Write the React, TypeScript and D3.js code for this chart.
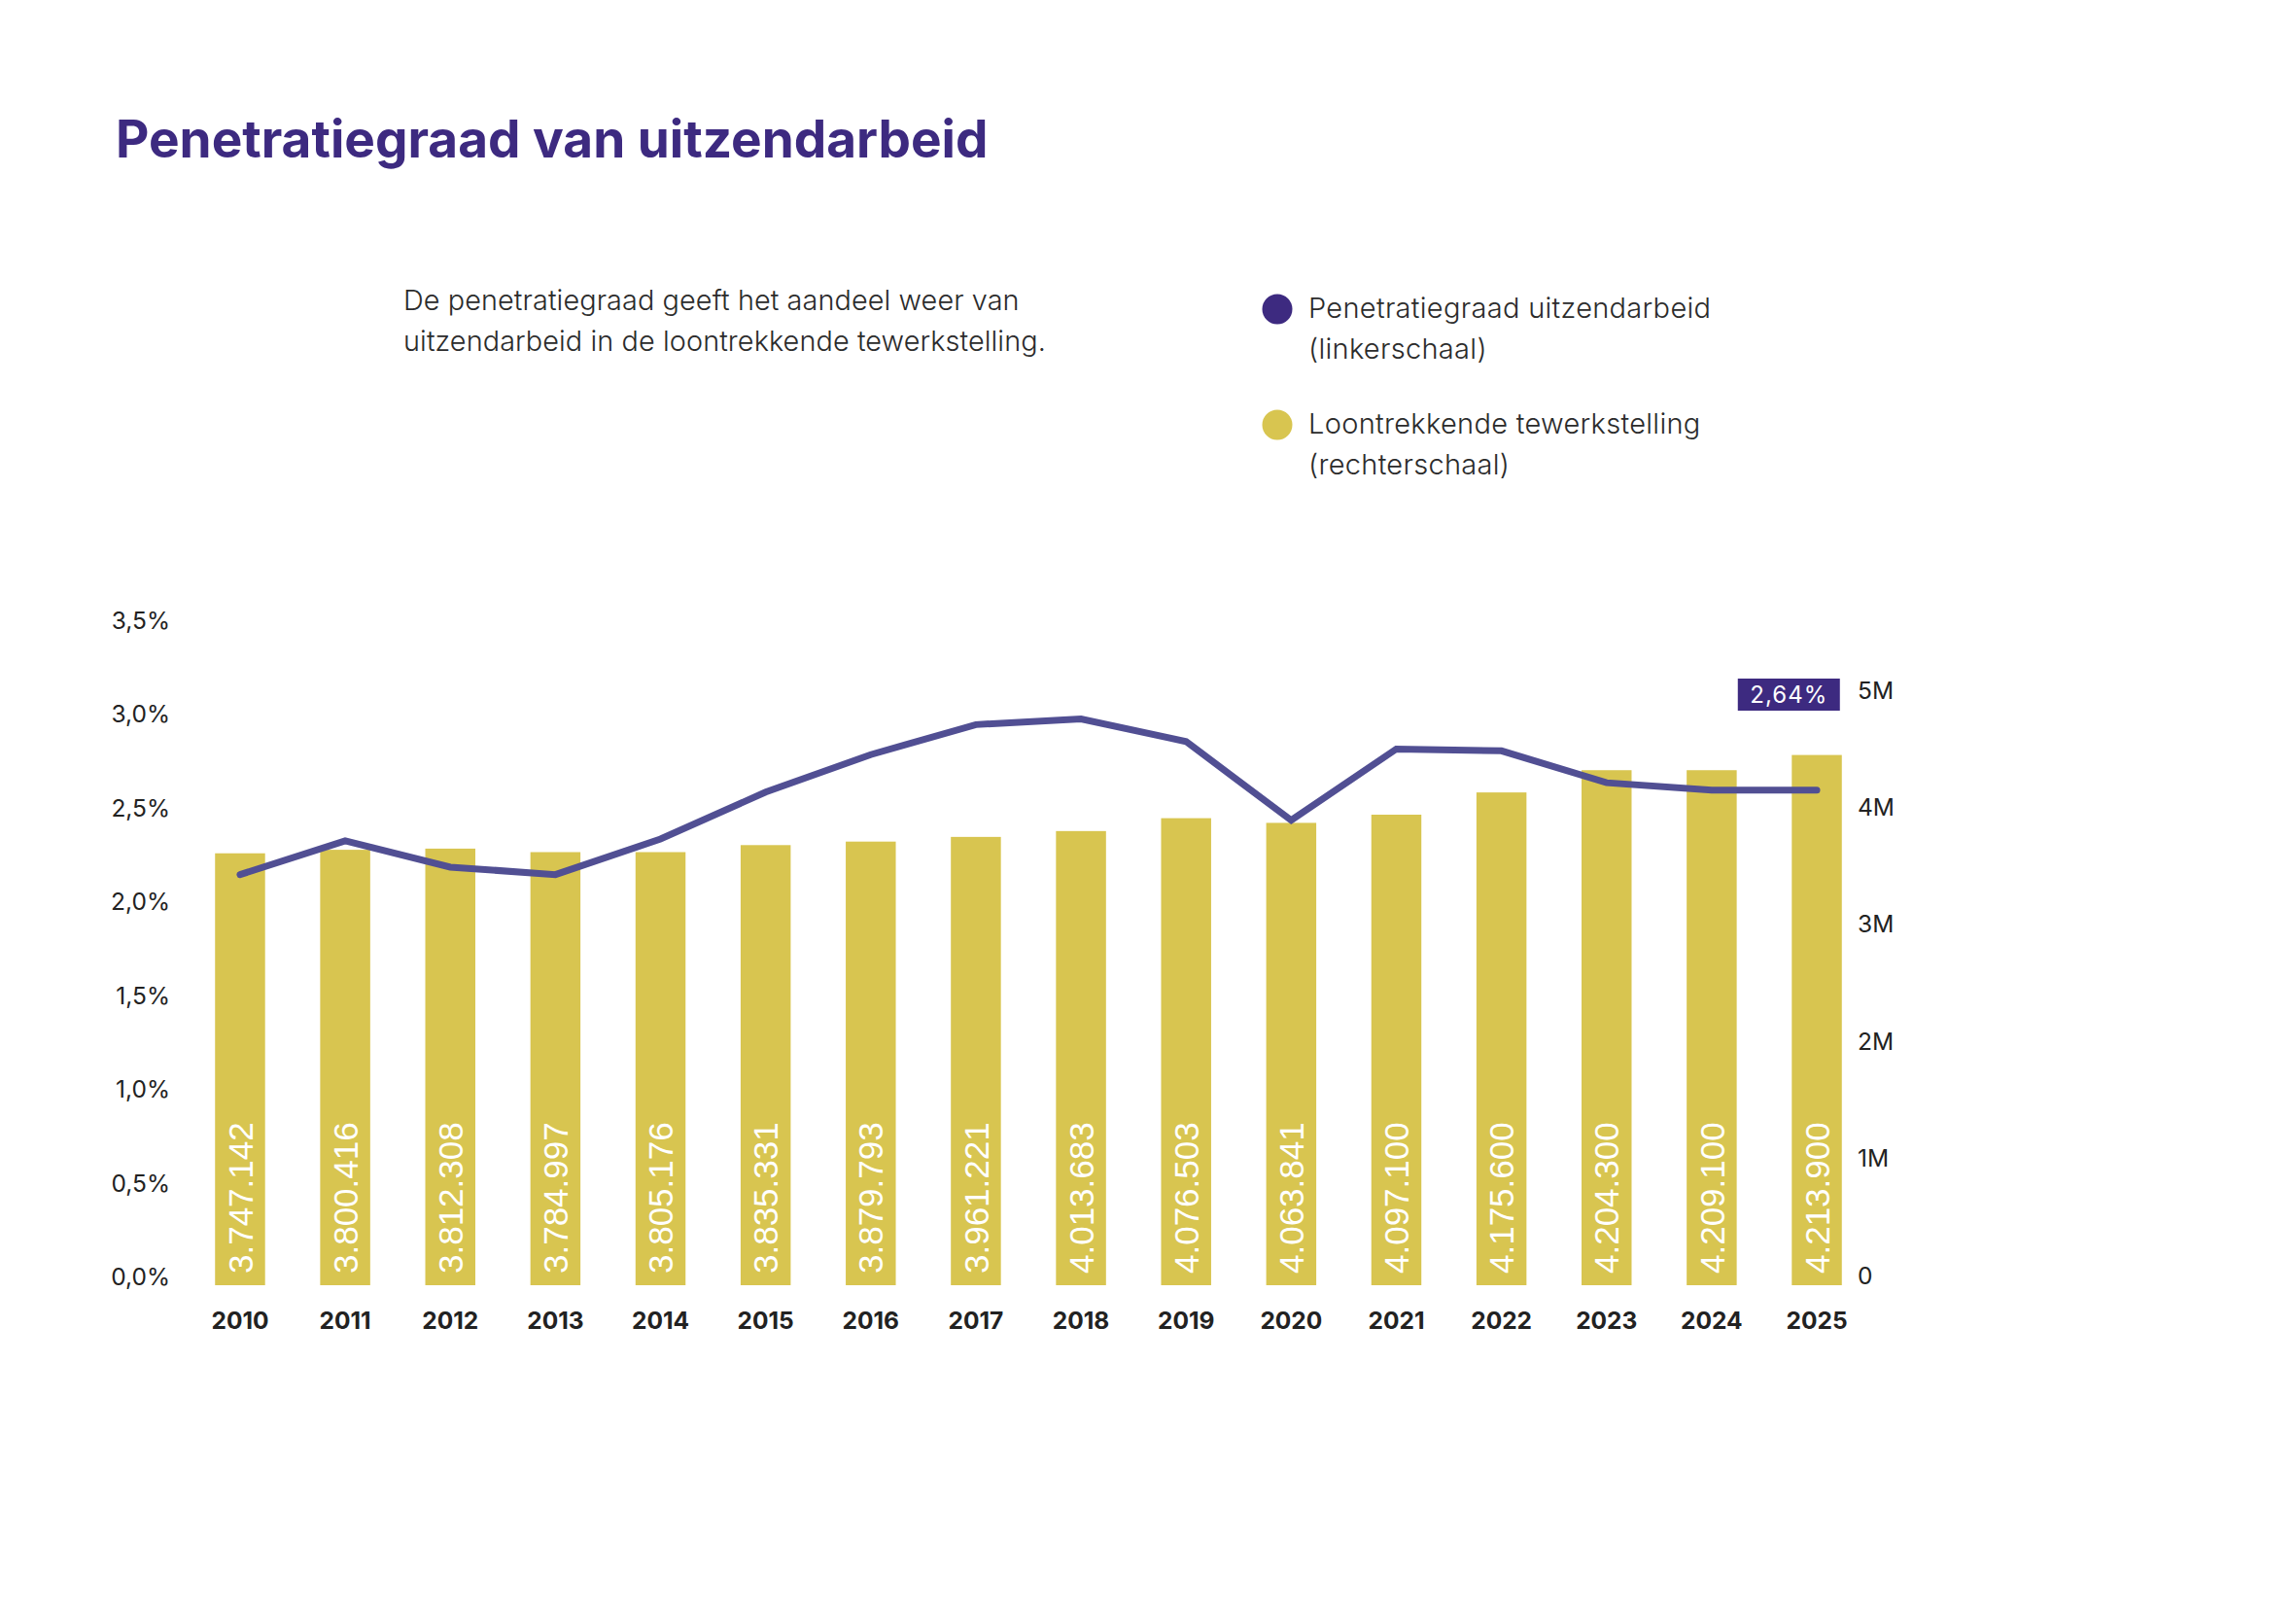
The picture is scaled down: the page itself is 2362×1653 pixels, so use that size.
import React, { FC } from 'react';
import * as d3 from 'd3';

const years = [
  '2010', '2011', '2012', '2013', '2014', '2015', '2016', '2017',
  '2018', '2019', '2020', '2021', '2022', '2023', '2024', '2025',
];
// penetratiegraad (linkerschaal), as fractions
const rateValues = [
  0.0219, 0.0237, 0.0223, 0.0219, 0.0238, 0.0263, 0.0283, 0.0299,
  0.0302, 0.029, 0.0248, 0.0286, 0.0285, 0.0268, 0.0264, 0.0264,
];
// bar heights as drawn against the right scale
const employmentHeights = [
  3690000, 3720000, 3730000, 3700000, 3700000, 3760000, 3790000, 3830000,
  3880000, 3990000, 3950000, 4020000, 4210000, 4400000, 4400000, 4530000,
];
// numbers printed inside the bars
const employmentLabels = [
  3747142, 3800416, 3812308, 3784997, 3805176, 3835331, 3879793, 3961221,
  4013683, 4076503, 4063841, 4097100, 4175600, 4204300, 4209100, 4213900,
];
const leftTicks = [0, 0.005, 0.01, 0.015, 0.02, 0.025, 0.03, 0.035];
const rightTicks = [0, 1000000, 2000000, 3000000, 4000000, 5000000];

const title = 'Penetratiegraad van uitzendarbeid';
const descLines = [
  'De penetratiegraad geeft het aandeel weer van',
  'uitzendarbeid in de loontrekkende tewerkstelling.',
];
const legendItems = [
  { color: '#3d2a80', lines: ['Penetratiegraad uitzendarbeid', '(linkerschaal)'] },
  { color: '#d8c550', lines: ['Loontrekkende tewerkstelling', '(rechterschaal)'] },
];

const W = 2362;
const H = 1653;
const sans = 'Inter, "Noto Sans", sans-serif';
const barFont = '"Liberation Sans", Arial, sans-serif';

const nl = d3.formatLocale({
  decimal: ',',
  thousands: '.',
  grouping: [3],
  currency: ['', ''],
});
const fmtInt = nl.format(',d');
const fmtPct1 = nl.format('.1%');
const fmtPct2 = nl.format('.2%');

const App: FC = () => (
  <div
    ref={(elem) => {
      if (!elem) {
        return;
      }
      const svg = chart();
      if (!svg) {
        return;
      }
      elem.innerHTML = '';
      elem.appendChild(svg);
    }}
  />
);

const chart = () => {
  const base = 1322;
  const x = d3
    .scaleBand<string>()
    .domain(years)
    .range([192.9, 1923.1])
    .paddingInner(0.524)
    .paddingOuter(0.262);
  const yLeft = d3.scaleLinear().domain([0, 0.035]).range([base, 647]);
  const yRight = d3.scaleLinear().domain([0, 5000000]).range([base, 720]);
  const bw = x.bandwidth();
  const cx = (y: string) => (x(y) || 0) + bw / 2;

  const svg = d3
    .create('svg')
    .attr('width', W)
    .attr('height', H)
    .attr('viewBox', `0 0 ${W} ${H}`)
    .style('position', 'absolute')
    .style('left', '0')
    .style('top', '0')
    .style('background', '#fff');

  svg
    .append('text')
    .attr('x', 119)
    .attr('y', 162)
    .attr('font-family', sans)
    .attr('font-weight', 700)
    .attr('font-size', 53.1)
    .attr('fill', '#3d2a80')
    .text(title);

  svg
    .append('g')
    .selectAll('text')
    .data(descLines)
    .join('text')
    .attr('x', 415)
    .attr('y', (d, i) => 319 + i * 42)
    .attr('font-family', sans)
    .attr('font-weight', 300)
    .attr('font-size', 28.8)
    .attr('letter-spacing', 0.1)
    .attr('fill', '#2b2b2b')
    .text((d) => d);

  const legend = svg
    .append('g')
    .selectAll('g')
    .data(legendItems)
    .join('g')
    .attr('transform', (d, i) => `translate(1314,${318 + i * 119})`);
  legend.append('circle').attr('r', 15.5).attr('fill', (d) => d.color);
  legend
    .selectAll('text')
    .data((d) => d.lines)
    .join('text')
    .attr('x', 32)
    .attr('y', (d, i) => 9 + i * 41.5)
    .attr('font-family', sans)
    .attr('font-weight', 300)
    .attr('font-size', 29)
    .attr('letter-spacing', 0.3)
    .attr('fill', '#2b2b2b')
    .text((d) => d);

  // bars
  svg
    .append('g')
    .attr('fill', '#d8c550')
    .selectAll('rect')
    .data(years)
    .join('rect')
    .attr('x', (d) => x(d) || 0)
    .attr('y', (d, i) => yRight(employmentHeights[i]))
    .attr('width', bw)
    .attr('height', (d, i) => base - yRight(employmentHeights[i]));

  svg
    .append('g')
    .selectAll('text')
    .data(years)
    .join('text')
    .attr('transform', (d) => `translate(${cx(d)},${base - 12}) rotate(-90)`)
    .attr('dy', '0.36em')
    .attr('font-family', barFont)
    .attr('font-size', 35)
    .attr('fill', '#fff')
    .text((d, i) => fmtInt(employmentLabels[i]));

  // line
  const line = d3
    .line<number>()
    .x((d, i) => cx(years[i]))
    .y((d) => yLeft(d));
  svg
    .append('path')
    .datum(rateValues)
    .attr('d', line)
    .attr('fill', 'none')
    .attr('stroke', '#514f93')
    .attr('stroke-width', 7)
    .attr('stroke-linecap', 'round')
    .attr('stroke-linejoin', 'miter');

  // axes
  const styleAxis = (
    g: d3.Selection<SVGGElement, undefined, null, undefined>,
    weight: number,
    size: number,
  ) => {
    g.select('.domain').remove();
    g.attr('font-family', sans)
      .attr('font-size', size)
      .attr('font-weight', weight)
      .attr('color', '#222');
  };

  svg
    .append('g')
    .attr('transform', 'translate(175,0)')
    .call(
      d3
        .axisLeft(yLeft)
        .tickValues(leftTicks)
        .tickSize(0)
        .tickPadding(0)
        .tickFormat((d) => fmtPct1(d as number)),
    )
    .call((g) => styleAxis(g, 400, 24.5))
    .call((g) => g.selectAll('text').attr('dy', '-0.02em'));

  svg
    .append('g')
    .attr('transform', 'translate(1911,0)')
    .call(
      d3
        .axisRight(yRight)
        .tickValues(rightTicks)
        .tickSize(0)
        .tickPadding(0)
        .tickFormat((d) => ((d as number) === 0 ? '0' : `${(d as number) / 1e6}M`)),
    )
    .call((g) => styleAxis(g, 400, 24.5))
    .call((g) => g.selectAll('text').attr('dy', '-0.08em'));

  svg
    .append('g')
    .attr('transform', 'translate(0,1367)')
    .call(d3.axisBottom(x).tickSize(0).tickPadding(0))
    .call((g) => styleAxis(g, 700, 24.5))
    .call((g) => g.selectAll('text').attr('dy', '0').attr('y', 0));

  // last value label
  const last = years.length - 1;
  const boxW = 105;
  const boxRight = (x(years[last]) || 0) + bw - 2;
  const boxTop = yRight(5000000) - 22;
  svg
    .append('rect')
    .attr('x', boxRight - boxW)
    .attr('y', boxTop)
    .attr('width', boxW)
    .attr('height', 33)
    .attr('fill', '#3d2a80');
  svg
    .append('text')
    .attr('x', boxRight - boxW / 2)
    .attr('y', boxTop + 16.5)
    .attr('dy', '0.36em')
    .attr('text-anchor', 'middle')
    .attr('font-family', sans)
    .attr('font-size', 24)
    .attr('letter-spacing', 1)
    .attr('fill', '#fff')
    .text(fmtPct2(rateValues[last]));

  return svg.node();
};

export default App;
